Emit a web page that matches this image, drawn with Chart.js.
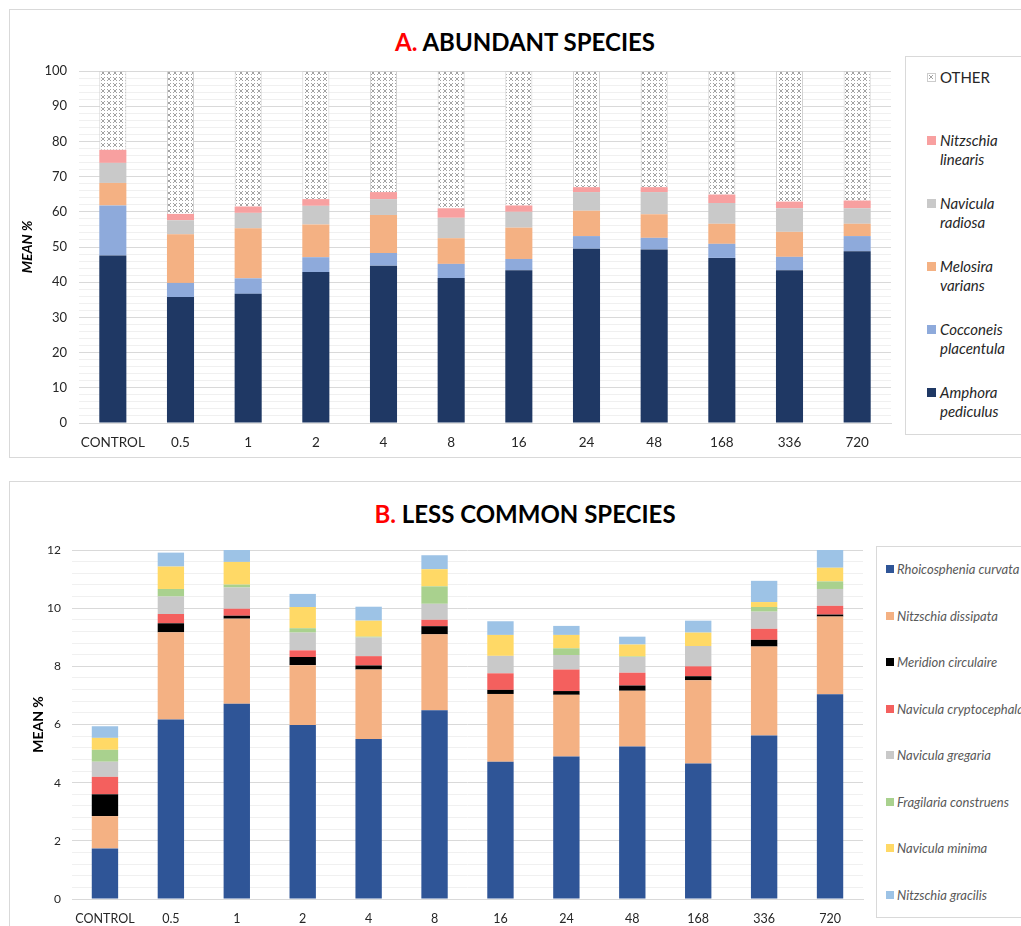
<!DOCTYPE html>
<html>
<head>
<meta charset="utf-8">
<script src="https://cdn.jsdelivr.net/npm/chart.js@4.4.1/dist/chart.umd.min.js"></script>
<style>
  body { margin: 0; background: #fff; width: 1021px; height: 926px; overflow: hidden; position: relative; font-family: Lato, "Open Sans", sans-serif; }
  .panel { position: absolute; left: 9px; width: 1030px; border: 1px solid #d9d9d9; box-sizing: border-box; background: #fff; }
  #panelA { top: 9px; height: 449px; }
  #panelB { top: 481px; height: 460px; }
  .title { position: absolute; left: 0; width: 1030px; text-align: center; font-weight: 700; font-size: 24px; color: #000; }
  .title span { color: #ff0000; }
  canvas { position: absolute; left: 0; }
  .legend { position: absolute; border: 1px solid #d9d9d9; background: #fff; box-sizing: border-box; }
  .legend .item { position: absolute; display: flex; align-items: flex-start; }
  .legend .sw { width: 9px; height: 9px; margin-right: 4px; flex: none; }
  #legendA { left: 895px; top: 46px; width: 140px; height: 379px; }
  #legendA .item { left: 21px; font-size: 15px; color: #262626; line-height: 19px; }
  #legendA .sw { margin-top: 5px; }
  #legendB { left: 866px; top: 64px; width: 170px; height: 372px; }
  #legendB .item { left: 9px; font-size: 13px; color: #595959; white-space: nowrap; }
  #legendB .sw { width: 8px; height: 8px; margin-top: 4px; margin-right: 3px; }
</style>
</head>
<body>
<div class="panel" id="panelA">
  <div class="title" style="top:17px">
    <span>A.</span> ABUNDANT SPECIES
  </div>
  <canvas id="chartA" width="895" height="448" style="top:0"></canvas>
  <div class="legend" id="legendA"></div>
</div>
<div class="panel" id="panelB">
  <div class="title" style="top:17px">
    <span>B.</span> LESS COMMON SPECIES
  </div>
  <canvas id="chartB" width="866" height="445" style="top:0"></canvas>
  <div class="legend" id="legendB"></div>
</div>
<script>
// categories (exposure time)
const categories = ['CONTROL', '0.5', '1', '2', '4', '8', '16', '24', '48', '168', '336', '720'];

// panel A - abundant species (mean %)
const amphora     = [47.6, 35.8, 36.7, 42.9, 44.7, 41.2, 43.4, 49.5, 49.3, 46.9, 43.4, 48.8];
const cocconeis   = [14.2, 4.0, 4.4, 4.2, 3.6, 4.0, 3.2, 3.6, 3.3, 4.0, 3.8, 4.3];
const melosira    = [6.4, 13.8, 14.2, 9.3, 10.8, 7.3, 8.9, 7.2, 6.7, 5.7, 7.1, 3.5];
const naviculaRad = [5.7, 4.0, 4.4, 5.3, 4.5, 5.8, 4.5, 5.3, 6.3, 5.9, 6.7, 4.4];
const nitzLinearis = [3.7, 1.8, 1.8, 1.9, 2.0, 2.7, 1.8, 1.4, 1.4, 2.4, 1.9, 2.2];
const other       = [22.4, 40.6, 38.5, 36.4, 34.4, 39.0, 38.2, 33.0, 33.0, 35.1, 37.1, 36.8];

// panel B - less common species (mean %)
const rhoicosphenia = [1.74, 6.17, 6.71, 5.98, 5.50, 6.49, 4.72, 4.90, 5.24, 4.66, 5.62, 7.04];
const nitzDissipata = [1.11, 3.00, 2.93, 2.06, 2.39, 2.61, 2.33, 2.12, 1.92, 2.86, 3.06, 2.67];
const meridion      = [0.75, 0.31, 0.10, 0.28, 0.14, 0.28, 0.14, 0.13, 0.18, 0.14, 0.23, 0.07];
const navCrypto     = [0.60, 0.32, 0.24, 0.23, 0.32, 0.22, 0.57, 0.74, 0.44, 0.34, 0.38, 0.30];
const navGregaria   = [0.52, 0.60, 0.73, 0.61, 0.64, 0.55, 0.60, 0.50, 0.54, 0.70, 0.59, 0.58];
const fragilaria    = [0.41, 0.26, 0.10, 0.15, 0.03, 0.60, 0, 0.23, 0.02, 0, 0.16, 0.26];
const navMinima     = [0.41, 0.77, 0.78, 0.73, 0.55, 0.59, 0.72, 0.46, 0.41, 0.46, 0.17, 0.47];
const nitzGracilis  = [0.40, 0.48, 0.41, 0.45, 0.48, 0.48, 0.47, 0.31, 0.27, 0.41, 0.73, 0.61];

// crosshatch pattern for OTHER
const pc = document.createElement('canvas');
pc.width = 6; pc.height = 6;
const px = pc.getContext('2d');
px.fillStyle = '#fff';
px.fillRect(0, 0, 6, 6);
px.strokeStyle = '#8c8c8c';
px.lineWidth = 0.8;
px.beginPath();
px.moveTo(1, 1); px.lineTo(5, 5);
px.moveTo(5, 1); px.lineTo(1, 5);
px.stroke();
const hatch = document.getElementById('chartA').getContext('2d').createPattern(pc, 'repeat');

function makeChart(id, datasets, opts) {
  return new Chart(document.getElementById(id), {
    type: 'bar',
    data: { labels: categories, datasets: datasets },
    options: {
      responsive: false,
      animation: false,
      devicePixelRatio: 1,
      layout: { padding: opts.padding },
      plugins: { legend: { display: false }, title: { display: false }, tooltip: { enabled: false } },
      datasets: { bar: { barPercentage: 0.4, categoryPercentage: 1 } },
      scales: {
        x: {
          stacked: true,
          grid: { display: false },
          border: { color: '#d9d9d9' },
          ticks: { color: '#262626', font: { family: 'Lato', size: opts.xFont }, padding: opts.xPad, maxRotation: 0, autoSkip: false },
          afterFit: s => { s.height = opts.xHeight; }
        },
        y: {
          stacked: true,
          min: 0, max: opts.max,
          border: { display: false },
          grid: {
            drawTicks: false,
            color: c => opts.isMajor(c.tick.value) ? '#d9d9d9' : '#f0f0f0',
            lineWidth: 1
          },
          ticks: {
            stepSize: opts.step,
            autoSkip: false,
            padding: opts.yPad,
            color: '#262626',
            font: { family: 'Lato', size: opts.yFont },
            callback: v => opts.isMajor(v) ? String(Math.round(v)) : ''
          },
          title: { display: true, text: 'MEAN %', color: '#000', font: opts.yTitleFont, padding: opts.yTitlePad },
          afterFit: s => { s.width = opts.yWidth; }
        }
      }
    }
  });
}

const chartA = makeChart('chartA', [
  { label: 'Amphora pediculus', data: amphora, backgroundColor: '#1f3864' },
  { label: 'Cocconeis placentula', data: cocconeis, backgroundColor: '#8eaadb' },
  { label: 'Melosira varians', data: melosira, backgroundColor: '#f4b183' },
  { label: 'Navicula radiosa', data: naviculaRad, backgroundColor: '#c9c9c9' },
  { label: 'Nitzschia linearis', data: nitzLinearis, backgroundColor: '#f8a0a0' },
  { label: 'OTHER', data: other, backgroundColor: hatch, borderColor: '#d0d0d0', borderWidth: 1 }
], {
  max: 100, step: 2,
  isMajor: v => Math.abs(v / 10 - Math.round(v / 10)) < 1e-6,
  padding: { left: 0, top: 61, right: 14, bottom: 0 },
  yWidth: 69, xHeight: 35, xPad: 4, yPad: 12, xFont: 13.5, yFont: 13,
  yTitleFont: { family: 'Lato', size: 14, weight: 'bold', style: 'italic' },
  yTitlePad: { top: 9, bottom: 0 }
});

const chartB = makeChart('chartB', [
  { label: 'Rhoicosphenia curvata', data: rhoicosphenia, backgroundColor: '#2f5597' },
  { label: 'Nitzschia dissipata', data: nitzDissipata, backgroundColor: '#f4b183' },
  { label: 'Meridion circulaire', data: meridion, backgroundColor: '#000000' },
  { label: 'Navicula cryptocephala', data: navCrypto, backgroundColor: '#f4605e' },
  { label: 'Navicula gregaria', data: navGregaria, backgroundColor: '#c9c9c9' },
  { label: 'Fragilaria construens', data: fragilaria, backgroundColor: '#a9d18e' },
  { label: 'Navicula minima', data: navMinima, backgroundColor: '#ffd966' },
  { label: 'Nitzschia gracilis', data: nitzGracilis, backgroundColor: '#9dc3e6' }
], {
  max: 12, step: 0.4,
  isMajor: v => Math.abs(v / 2 - Math.round(v / 2)) < 1e-6,
  padding: { left: 0, top: 68, right: 13, bottom: 0 },
  yWidth: 62, xHeight: 28, xPad: 4, yPad: 11, xFont: 12.5, yFont: 12,
  yTitleFont: { family: 'Lato', size: 14, weight: 'bold' },
  yTitlePad: { top: 20, bottom: 0 }
});

// html legends built from the chart datasets
function swatchStyle(ds) {
  if (ds.label === 'OTHER') return `background-image:url(${pc.toDataURL()});border:1px solid #ccc;box-sizing:border-box;`;
  return `background:${ds.backgroundColor};`;
}

const legA = document.getElementById('legendA');
const orderA = chartA.data.datasets.slice().reverse();
orderA.forEach((ds, i) => {
  const words = ds.label.split(' ');
  const text = ds.label === 'OTHER' ? 'OTHER' : `<i>${words[0]}<br>${words.slice(1).join(' ')}</i>`;
  const div = document.createElement('div');
  div.className = 'item';
  div.style.top = (i === 0 ? 11 : 74 + (i - 1) * 63) + 'px';
  div.innerHTML = `<div class="sw" style="${swatchStyle(ds)}"></div><div>${text}</div>`;
  legA.appendChild(div);
});

const legB = document.getElementById('legendB');
chartB.data.datasets.forEach((ds, i) => {
  const div = document.createElement('div');
  div.className = 'item';
  div.style.top = (14 + i * 46.5) + 'px';
  div.innerHTML = `<div class="sw" style="${swatchStyle(ds)}"></div><div><i>${ds.label}</i></div>`;
  legB.appendChild(div);
});
</script>
</body>
</html>
